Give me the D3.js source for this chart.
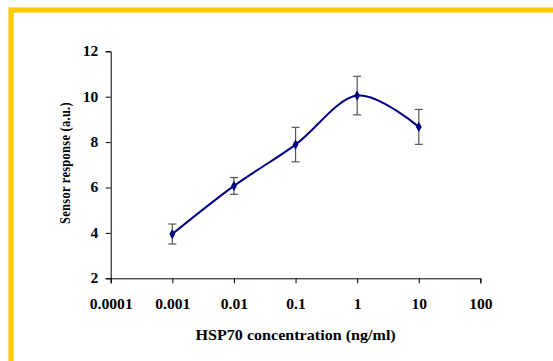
<!DOCTYPE html>
<html><head><meta charset="utf-8">
<script src="https://cdn.jsdelivr.net/npm/d3@7"></script>
<style>body{margin:0;background:#fff}svg{display:block}</style>
</head><body>
<script>
const concentrations = [0.001, 0.01, 0.1, 1, 10];
const responses = [3.95, 6.07, 7.89, 10.05, 8.67];
const errors = [0.44, 0.37, 0.76, 0.85, 0.77];
const xTickValues = [0.0001, 0.001, 0.01, 0.1, 1, 10, 100];
const xTickLabels = ["0.0001", "0.001", "0.01", "0.1", "1", "10", "100"];
const yTickValues = [2, 4, 6, 8, 10, 12];

const W = 553, H = 361;
const svg = d3.select("body").append("svg").attr("width", W).attr("height", H);
svg.append("rect").attr("width", W).attr("height", H).attr("fill", "#fff");
// yellow frame
svg.append("rect").attr("x", 11.1).attr("y", 10).attr("width", 600).attr("height", 400)
  .attr("fill", "none").attr("stroke", "#FFCC00").attr("stroke-width", 5.3);

const x = d3.scaleLog().domain([0.0001, 100]).range([110.7, 480.4]);
const y = d3.scaleLinear().domain([2, 12]).range([278.3, 51.3]);
const font = "Liberation Serif";
const SX = 1.15;

const xAxis = svg.append("g").attr("transform", "translate(0,278.3)")
  .call(d3.axisBottom(x).tickValues(xTickValues).tickFormat((d, i) => xTickLabels[i]).tickSizeOuter(0).tickSize(5).tickPadding(20));
const yAxis = svg.append("g").attr("transform", "translate(110.7,0)")
  .call(d3.axisLeft(y).tickValues(yTickValues).tickSizeOuter(0).tickSize(5).tickPadding(7.5));
[xAxis, yAxis].forEach(g => {
  g.attr("font-family", null).attr("font-size", null);
  g.select(".domain").attr("stroke", "#000").attr("stroke-width", 1);
  g.selectAll(".tick line").attr("stroke", "#000");
  g.selectAll("text").style("font-family", font).style("font-weight", "bold").style("font-size", "13.6px").attr("fill", "#000");
});
// horizontal stretch of tick labels as in the reference
xAxis.selectAll(".tick text").attr("transform", `scale(${SX},1)`).attr("x", 0).attr("dy", null).attr("y", 30.5);
yAxis.selectAll(".tick text").attr("x", -12.4 / SX).attr("transform", `scale(${SX},1)`);

svg.append("text").attr("transform", `translate(295.6,339.5) scale(${SX},1)`).attr("text-anchor", "middle")
  .style("font-family", font).style("font-weight", "bold").style("font-size", "14px").text("HSP70 concentration (ng/ml)");
svg.append("text").attr("transform", `translate(70,163) scale(${SX},1) rotate(-90)`).attr("text-anchor", "middle")
  .style("font-family", font).style("font-weight", "bold").style("font-size", "12.4px").style("letter-spacing", "0.3px").text("Sensor response (a.u.)");

const data = concentrations.map((c, i) => ({c, v: responses[i], e: errors[i]}));

// error bars
const eb = svg.append("g").attr("stroke", "#555").attr("stroke-width", 1.2);
data.forEach(d => {
  const cx = x(d.c);
  eb.append("line").attr("x1", cx).attr("x2", cx).attr("y1", y(d.v + d.e)).attr("y2", y(d.v - d.e));
  eb.append("line").attr("x1", cx - 4).attr("x2", cx + 4).attr("y1", y(d.v + d.e)).attr("y2", y(d.v + d.e));
  eb.append("line").attr("x1", cx - 4).attr("x2", cx + 4).attr("y1", y(d.v - d.e)).attr("y2", y(d.v - d.e));
});

const line = d3.line().x(d => x(d.c)).y(d => y(d.v)).curve(d3.curveCatmullRom.alpha(0));
svg.append("path").datum(data).attr("d", line).attr("fill", "none").attr("stroke", "#000080").attr("stroke-width", 2);

svg.append("g").selectAll("path").data(data).join("path")
  .attr("transform", d => `translate(${x(d.c)},${y(d.v)})`)
  .attr("d", d3.symbol(d3.symbolDiamond, 30)).attr("fill", "#000080");
</script>
</body></html>
